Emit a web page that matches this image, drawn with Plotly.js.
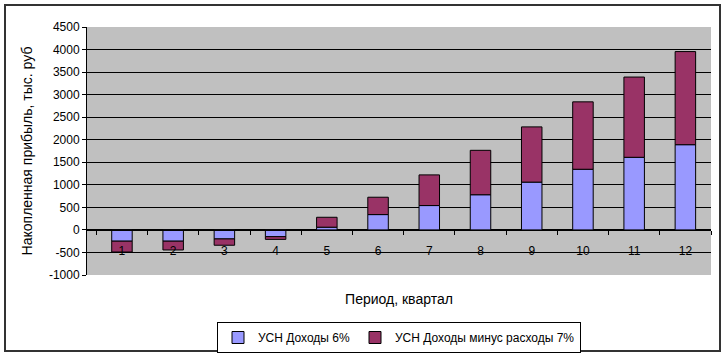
<!DOCTYPE html>
<html>
<head>
<meta charset="utf-8">
<script src="https://cdn.plot.ly/plotly-3.0.1.min.js"></script>
<style>body{margin:0;padding:0;background:#fff}</style>
</head>
<body>
<div id="chart" style="width:724px;height:355px"></div>
<script>
const quarters = ['1','2','3','4','5','6','7','8','9','10','11','12'];
const usn6 = [-250, -250, -200, -150, 60, 340, 540, 780, 1060, 1345, 1610, 1890];
const usn7 = [-240, -195, -140, -60, 220, 385, 680, 985, 1225, 1495, 1780, 2065];
const yTicks = [-1000,-500,0,500,1000,1500,2000,2500,3000,3500,4000,4500];
const gridTicks = [-500,0,500,1000,1500,2000,2500,3000,3500,4000];
const seriesNames = ['УСН Доходы 6%', 'УСН Доходы минус расходы 7%'];

const font = 'Arial, "Liberation Sans", sans-serif';

const traces = [
  {type:'bar', name: seriesNames[0], x: quarters, y: usn6,
   marker:{color:'#9999FF', line:{color:'#000', width:1}}},
  {type:'bar', name: seriesNames[1], x: quarters, y: usn7,
   marker:{color:'#993366', line:{color:'#000', width:1}}}
];

// plot area in pixels: x 87..711, y 27..275
const L=87, R=711, T=27, B=275, W=724, H=355;
const px = v => (v - L)/(R - L);
const py = v => (B - v)/(B - T);

const layout = {
  width: W, height: H,
  margin:{l:L, r:W-R, t:T, b:H-B, pad:0, autoexpand:false},
  barmode:'relative',
  bargap:0.6,
  paper_bgcolor:'#fff',
  plot_bgcolor:'#C0C0C0',
  font:{family:font, size:12, color:'#000'},
  showlegend:true,
  legend:{orientation:'h', x:0.5, xanchor:'center', y:py(322), yanchor:'top',
          bordercolor:'#000', borderwidth:1, font:{size:12, family:font},
          bgcolor:'#fff', traceorder:'normal', itemwidth:30,
          tracegroupgap:0},
  xaxis:{type:'category', anchor:'free', position:1000/5500,
         showline:true, linecolor:'#000', linewidth:1,
         ticks:'outside', ticklen:4, tickcolor:'#000', tickson:'boundaries',
         ticklabelstandoff:10,
         showgrid:false, zeroline:false,
         tickfont:{size:12},
         title:{text:'Период, квартал', font:{size:14}, standoff:36}},
  yaxis:{range:[-1000,4500], tickvals:yTicks, ticktext:yTicks.map(String),
         showline:true, linecolor:'#000', linewidth:1,
         ticks:'outside', ticklen:4, tickcolor:'#000',
         showgrid:false, zeroline:false,
         tickfont:{size:12},
         title:{text:'Накопленная прибыль, тыс. руб', font:{size:14}, standoff:12}},
  yaxis2:{overlaying:'y', range:[-1000,4500], tickvals:gridTicks,
          showticklabels:false, ticks:'', showline:false, zeroline:false,
          showgrid:true, gridcolor:'#000', gridwidth:1, side:'left'},
  shapes:[
    {type:'rect', xref:'paper', yref:'paper', x0:px(5), x1:px(720), y0:py(351), y1:py(5),
     line:{color:'#333', width:2}, fillcolor:'rgba(0,0,0,0)', layer:'below'}
  ]
};

// invisible helper trace so the grid axis is drawn
traces.push({type:'scatter', x:[quarters[0]], y:[0], yaxis:'y2', mode:'markers',
             marker:{opacity:0}, showlegend:false, hoverinfo:'skip'});

Plotly.newPlot('chart', traces, layout, {displayModeBar:false, staticPlot:true});
</script>
</body>
</html>
